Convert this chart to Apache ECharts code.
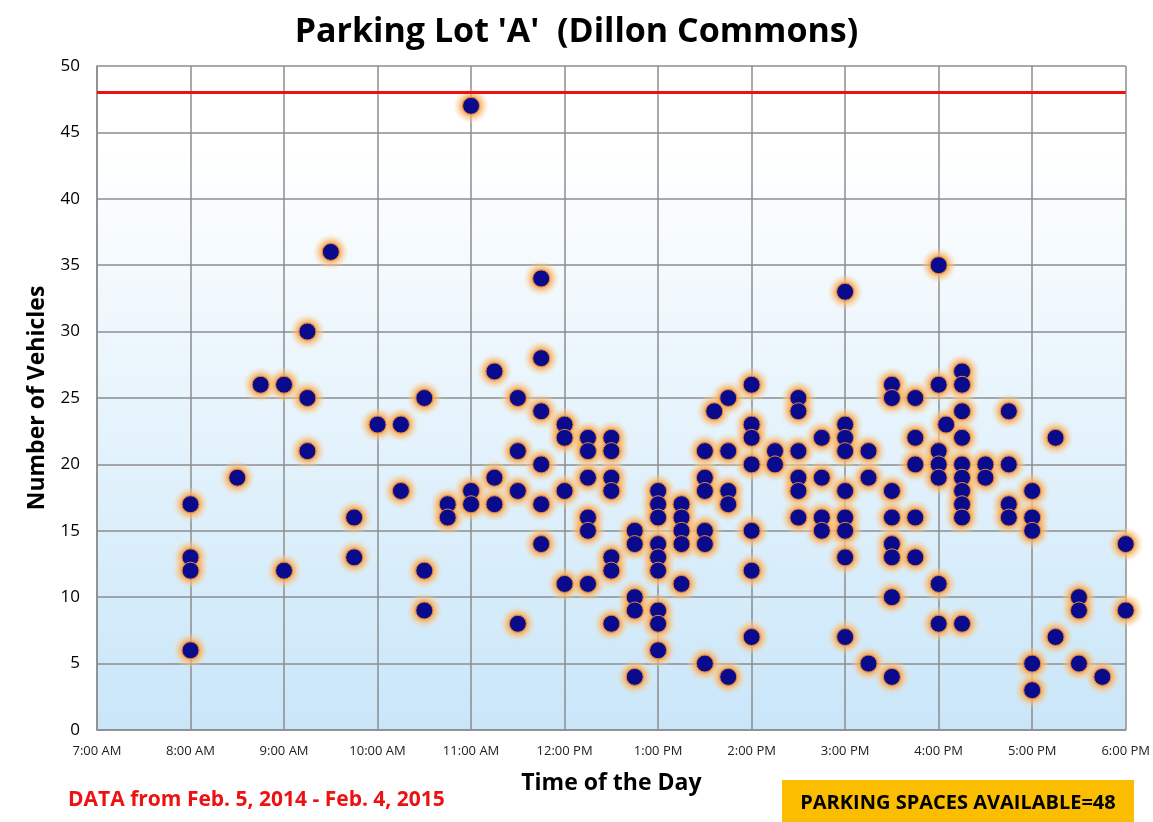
<!DOCTYPE html>
<html>
<head>
<meta charset="utf-8">
<title>Parking Lot 'A' (Dillon Commons)</title>
<script src="https://cdn.jsdelivr.net/npm/echarts@6/dist/echarts.min.js"></script>
<style>
  html, body { margin: 0; padding: 0; background: #fff; }
  #chart { width: 1153px; height: 822px; }
</style>
</head>
<body>
<div id="chart"></div>
<script>
// time of day in hours (8.25 = 8:15 AM), one entry per column of dots
const times = [8, 8.5, 8.75, 9, 9.25, 9.5, 9.75, 10, 10.25, 10.5, 10.75, 11, 11.25, 11.5, 11.75,
  12, 12.25, 12.5, 12.75, 13, 13.25, 13.5, 13.6, 13.75, 14, 14.25, 14.5, 14.75, 15, 15.25,
  15.5, 15.75, 16, 16.08, 16.25, 16.5, 16.75, 17, 17.25, 17.5, 17.75, 18];
// vehicle counts seen at each time above
const vehicles = [
  [17, 13, 12, 6],
  [19],
  [26],
  [26, 12],
  [30, 25, 21],
  [36],
  [16, 13],
  [23],
  [23, 18],
  [25, 12, 9],
  [17, 16],
  [47, 18, 17],
  [27, 19, 17],
  [25, 21, 18, 8],
  [34, 28, 24, 20, 17, 14],
  [23, 22, 18, 11],
  [22, 21, 19, 16, 15, 11],
  [22, 21, 19, 18, 13, 12, 8],
  [15, 14, 10, 9, 4],
  [18, 17, 16, 14, 13, 12, 9, 8, 6],
  [17, 16, 15, 14, 11],
  [21, 19, 18, 15, 14, 5],
  [24],
  [25, 21, 18, 17, 4],
  [26, 23, 22, 20, 15, 12, 7],
  [21, 20],
  [25, 24, 21, 19, 18, 16],
  [22, 19, 16, 15],
  [33, 23, 22, 21, 18, 16, 15, 13, 7],
  [21, 19, 5],
  [26, 25, 18, 16, 14, 13, 10, 4],
  [25, 22, 20, 16, 13],
  [35, 26, 21, 20, 19, 11, 8],
  [23],
  [27, 26, 24, 22, 20, 19, 18, 17, 16, 8],
  [20, 19],
  [24, 20, 17, 16],
  [18, 16, 15, 5, 3],
  [22, 7],
  [10, 9, 5],
  [4],
  [14, 9]
];
const capacity = 48;
const xMin = 7, xMax = 18;
const yMin = 0, yMax = 50;

const points = [];
times.forEach((t, i) => {
  vehicles[i].forEach(v => points.push([t, v]));
});

function hourLabel(h) {
  const suffix = h < 12 ? 'AM' : 'PM';
  let hh = h > 12 ? h - 12 : h;
  return hh + ':00 ' + suffix;
}

const chart = echarts.init(document.getElementById('chart'));
const font = "'Open Sans', sans-serif";

const option = {
  animation: false,
  title: {
    text: "Parking Lot 'A'  (Dillon Commons)",
    left: 'center',
    top: 10,
    textStyle: { fontFamily: font, fontSize: 34, fontWeight: 'bold', color: '#000' }
  },
  grid: {
    left: 97, right: 25, top: 66, bottom: 92,
    show: true,
    borderWidth: 0,
    backgroundColor: new echarts.graphic.LinearGradient(0, 0, 0, 1, [
      { offset: 0, color: '#ffffff' },
      { offset: 0.12, color: '#ffffff' },
      { offset: 1, color: '#c9e6f9' }
    ])
  },
  xAxis: {
    type: 'value',
    min: xMin, max: xMax, interval: 1,
    name: 'Time of the Day',
    nameLocation: 'middle',
    nameGap: 42,
    nameTextStyle: { fontFamily: font, fontSize: 23, fontWeight: 'bold', color: '#000' },
    axisLine: { lineStyle: { color: '#8c8c8c', width: 1.5 } },
    axisTick: { show: false },
    splitLine: { lineStyle: { color: '#8c8c8c', width: 1.5 } },
    axisLabel: {
      formatter: v => hourLabel(v),
      fontFamily: font, fontSize: 13, color: '#222', margin: 15
    }
  },
  yAxis: {
    type: 'value',
    min: yMin, max: yMax, interval: 5,
    name: 'Number of Vehicles',
    nameLocation: 'middle',
    nameRotate: 90,
    nameGap: 48,
    nameTextStyle: { fontFamily: font, fontSize: 23, fontWeight: 'bold', color: '#000' },
    axisLine: { show: true, lineStyle: { color: '#8c8c8c', width: 1.5 } },
    axisTick: { show: false },
    splitLine: { lineStyle: { color: '#8c8c8c', width: 1.5 } },
    axisLabel: { fontFamily: font, fontSize: 17, color: '#000', margin: 17 }
  },
  series: [
    {
      // soft orange halo behind every dot
      type: 'scatter',
      data: points,
      symbolSize: 36,
      silent: true,
      z: 2,
      itemStyle: {
        opacity: 1,
        color: {
          type: 'radial', x: 0.5, y: 0.5, r: 0.5,
          colorStops: [
            { offset: 0, color: 'rgba(245,150,50,1)' },
            { offset: 0.5, color: 'rgba(246,165,75,0.85)' },
            { offset: 0.75, color: 'rgba(248,195,130,0.45)' },
            { offset: 1, color: 'rgba(250,215,170,0)' }
          ]
        }
      },
      markLine: {
        silent: true,
        symbol: 'none',
        label: { show: false },
        lineStyle: { color: '#ee1111', width: 3, type: 'solid' },
        data: [{ yAxis: capacity }]
      }
    },
    {
      type: 'scatter',
      data: points,
      symbolSize: 17,
      z: 3,
      itemStyle: { opacity: 1, color: '#0a0a8c', borderColor: '#e6863a', borderWidth: 1 }
    }
  ],
  graphic: [
    {
      type: 'text',
      left: 68, top: 790,
      style: {
        text: 'DATA from Feb. 5, 2014 - Feb. 4, 2015',
        fill: '#ee1111',
        font: "bold 21px 'Open Sans', sans-serif"
      }
    },
    {
      type: 'rect',
      shape: { x: 782, y: 780, width: 352, height: 42 },
      style: { fill: '#fbbd00' }
    },
    {
      type: 'text',
      x: 958, y: 803,
      style: {
        text: 'PARKING SPACES AVAILABLE=48',
        fill: '#000',
        align: 'center', verticalAlign: 'middle',
        font: "bold 20px 'Open Sans', sans-serif"
      }
    }
  ]
};
chart.setOption(option);
</script>
</body>
</html>
